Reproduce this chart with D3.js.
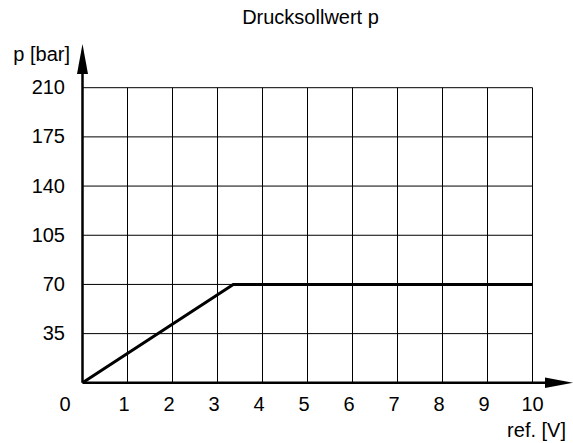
<!DOCTYPE html>
<html><head><meta charset="utf-8">
<script src="https://d3js.org/d3.v7.min.js"></script>
<style>body{margin:0;background:#fff}svg{display:block}</style>
</head><body>
<script>
const xTicks = [0,1,2,3,4,5,6,7,8,9,10];
const yTicks = [0,35,70,105,140,175,210];
const lineX = [0, 3.35, 10];
const lineY = [0, 70, 70];
const title = "Drucksollwert p";
const xLabel = "ref. [V]";
const yLabel = "p [bar]";

const W = 573, H = 443;
const svg = d3.select("body").append("svg").attr("width", W).attr("height", H);
const x = d3.scaleLinear().domain([0,10]).range([82.5,532.5]);
const y = d3.scaleLinear().domain([0,210]).range([382.8,87.7]);
const font = "Liberation Sans, Arial, sans-serif";
const fs = 20;

// grid
const g = svg.append("g");
g.selectAll(".vx").data(xTicks.slice(1)).enter().append("line")
  .attr("x1", d=>x(d)).attr("x2", d=>x(d)).attr("y1", y(0)).attr("y2", y(210))
  .attr("stroke","#000").attr("stroke-width",1);
g.selectAll(".hy").data(yTicks.slice(1)).enter().append("line")
  .attr("x1", x(0)).attr("x2", x(10)).attr("y1", d=>y(d)).attr("y2", d=>y(d))
  .attr("stroke","#000").attr("stroke-width",1);

// axes
svg.append("line").attr("x1", x(0)).attr("x2", 548).attr("y1", y(0)).attr("y2", y(0))
  .attr("stroke","#000").attr("stroke-width",2.5);
svg.append("line").attr("x1", x(0)).attr("x2", x(0)).attr("y1", y(0)).attr("y2", 70)
  .attr("stroke","#000").attr("stroke-width",2.5);
// arrows
svg.append("path").attr("d", `M${x(0)-5.5},74 L${x(0)},44 L${x(0)+5.5},74 Z`).attr("fill","#000");
svg.append("path").attr("d", `M545,${y(0)-5.3} L573,${y(0)} L545,${y(0)+5.3} Z`).attr("fill","#000");

// data line
const pts = lineX.map((d,i)=>[d,lineY[i]]);
svg.append("path").attr("d", d3.line().x(d=>x(d[0])).y(d=>y(d[1]))(pts))
  .attr("fill","none").attr("stroke","#000").attr("stroke-width",3);

// tick labels
svg.selectAll(".yt").data(yTicks.slice(1)).enter().append("text")
  .attr("x", 65).attr("y", d=>y(d)+6.5).attr("text-anchor","end")
  .attr("font-family",font).attr("font-size",fs).text(d=>d);
svg.selectAll(".xt").data(xTicks).enter().append("text")
  .attr("x", d=> d===0 ? 65 : (d<10 ? x(d)-3.5 : x(d))).attr("y", 411).attr("text-anchor","middle")
  .attr("font-family",font).attr("font-size",fs).text(d=>d);

svg.append("text").attr("x", 566).attr("y", 436.5).attr("text-anchor","end")
  .attr("font-family",font).attr("font-size",fs).text(xLabel);
svg.append("text").attr("x", 70).attr("y", 61).attr("text-anchor","end")
  .attr("font-family",font).attr("font-size",fs).text(yLabel);
svg.append("text").attr("x", 310.5).attr("y", 24).attr("text-anchor","middle")
  .attr("font-family",font).attr("font-size",fs).text(title);
</script>
</body></html>
